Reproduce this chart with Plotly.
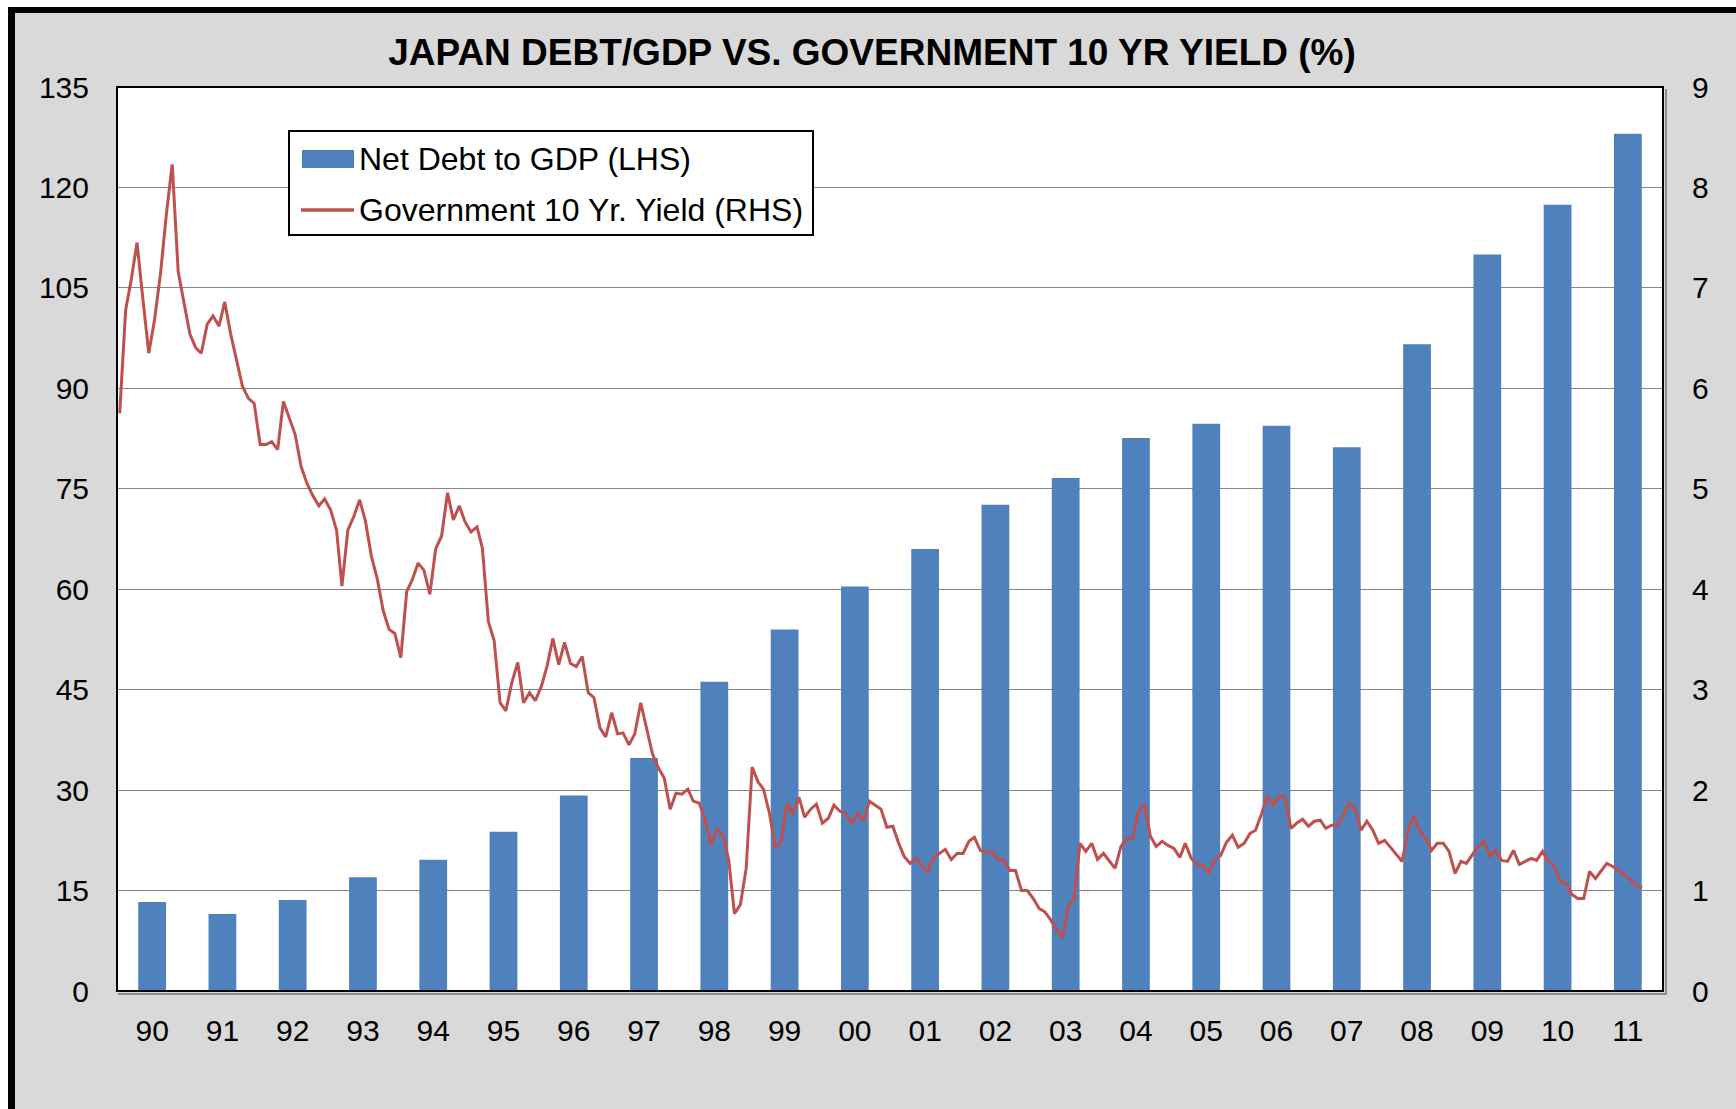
import pandas as pd
import plotly.graph_objects as go

# ---------------------------------------------------------------- data
years = ["90", "91", "92", "93", "94", "95", "96", "97", "98", "99", "00",
         "01", "02", "03", "04", "05", "06", "07", "08", "09", "10", "11"]

# Net debt to GDP (%), annual
net_debt_gdp = [13.3, 11.5, 13.6, 17.0, 19.6, 23.8, 29.2, 34.8, 46.2, 54.0, 60.4,
                66.0, 72.6, 76.6, 82.6, 84.7, 84.4, 81.2, 96.6, 110.0, 117.4, 128.0]

# Government 10-year yield (%), monthly from Jan 1990
yield_10y = [
    5.75, 6.78, 7.07, 7.45, 6.90, 6.35, 6.68, 7.14, 7.74, 8.23, 7.16, 6.84,   # 1990
    6.54, 6.40, 6.35, 6.64, 6.72, 6.62, 6.86, 6.54, 6.28, 6.02, 5.90, 5.85,   # 1991
    5.44, 5.44, 5.47, 5.39, 5.87, 5.70, 5.54, 5.22, 5.05, 4.93, 4.83, 4.90,   # 1992
    4.79, 4.59, 4.03, 4.59, 4.72, 4.89, 4.68, 4.33, 4.10, 3.79, 3.60, 3.56,   # 1993
    3.32, 3.98, 4.09, 4.26, 4.19, 3.95, 4.40, 4.53, 4.96, 4.69, 4.83, 4.67,   # 1994
    4.57, 4.62, 4.41, 3.68, 3.49, 2.87, 2.79, 3.07, 3.27, 2.87, 2.97, 2.89,   # 1995
    3.03, 3.24, 3.51, 3.25, 3.47, 3.26, 3.23, 3.33, 2.97, 2.92, 2.62, 2.53,   # 1996
    2.77, 2.56, 2.57, 2.45, 2.56, 2.87, 2.62, 2.36, 2.22, 2.12, 1.81, 1.97,   # 1997
    1.96, 2.01, 1.89, 1.87, 1.71, 1.45, 1.61, 1.56, 1.31, 0.77, 0.86, 1.22,   # 1998
    2.23, 2.08, 2.01, 1.77, 1.43, 1.49, 1.87, 1.76, 1.93, 1.73, 1.81, 1.86,   # 1999
    1.67, 1.72, 1.85, 1.79, 1.77, 1.67, 1.77, 1.69, 1.89, 1.85, 1.81, 1.63,   # 2000
    1.64, 1.47, 1.34, 1.27, 1.32, 1.25, 1.19, 1.33, 1.37, 1.41, 1.31, 1.37,   # 2001
    1.37, 1.49, 1.53, 1.40, 1.38, 1.39, 1.31, 1.31, 1.20, 1.20, 1.00, 1.00,   # 2002
    0.92, 0.82, 0.79, 0.71, 0.61, 0.53, 0.84, 0.92, 1.47, 1.39, 1.47, 1.31,   # 2003
    1.37, 1.29, 1.22, 1.44, 1.52, 1.52, 1.79, 1.86, 1.54, 1.44, 1.49, 1.45,   # 2004
    1.42, 1.33, 1.47, 1.32, 1.26, 1.25, 1.17, 1.31, 1.35, 1.48, 1.55, 1.43,   # 2005
    1.47, 1.57, 1.60, 1.76, 1.94, 1.85, 1.94, 1.94, 1.62, 1.67, 1.71, 1.64,   # 2006
    1.69, 1.70, 1.62, 1.65, 1.65, 1.75, 1.87, 1.81, 1.60, 1.69, 1.60, 1.47,   # 2007
    1.50, 1.43, 1.36, 1.29, 1.59, 1.75, 1.59, 1.53, 1.40, 1.47, 1.47, 1.39,   # 2008
    1.17, 1.29, 1.27, 1.36, 1.44, 1.49, 1.34, 1.40, 1.30, 1.29, 1.40, 1.26,   # 2009
    1.29, 1.32, 1.30, 1.39, 1.29, 1.25, 1.09, 1.07, 0.96, 0.92, 0.92, 1.19,   # 2010
    1.12, 1.20, 1.27, 1.24, 1.20, 1.16, 1.11, 1.05, 1.03,                     # 2011
]
months = pd.date_range("1990-01-15", periods=len(yield_10y),
                       freq=pd.DateOffset(months=1))

title_text = "JAPAN DEBT/GDP VS. GOVERNMENT 10 YR YIELD (%)"
bar_name = "Net Debt to GDP (LHS)"
line_name = "Government 10 Yr. Yield (RHS)"

# ---------------------------------------------------------------- layout geometry
W, H = 1736, 1109
L, R, T, B = 117, 1663, 87, 991          # plot-area edges in pixels
FONT = "Liberation Sans, Arial, sans-serif"
BLUE, RED = "#4F81BD", "#C0504D"


def px(x):
    return (x - L) / (R - L)


def py(y):
    return (B - y) / (B - T)


def rect(x0, y0, x1, y1, **kw):
    return dict(type="rect", xref="paper", yref="paper",
                x0=px(x0), x1=px(x1), y0=py(y1), y1=py(y0), **kw)


fig = go.Figure()

fig.add_trace(go.Bar(
    x=years, y=net_debt_gdp, name=bar_name,
    marker=dict(color=BLUE, line=dict(width=0)),
    xaxis="x", yaxis="y", showlegend=False,
))

fig.add_trace(go.Scatter(
    x=months, y=yield_10y, name=line_name, mode="lines",
    line=dict(color=RED, width=3),
    xaxis="x2", yaxis="y2", showlegend=False,
))

shapes = [
    # outer frame: white margin, black top and left edges
    rect(0, 0, W, 7, fillcolor="white", line_width=0, layer="above"),
    rect(0, 0, 8, H, fillcolor="white", line_width=0, layer="above"),
    rect(8, 7, W, 13, fillcolor="black", line_width=0, layer="above"),
    rect(8, 7, 15, H, fillcolor="black", line_width=0, layer="above"),
    # plot-area border with soft shadow on bottom and right
    rect(L + 1, B + 2, R + 3, B + 4, fillcolor="#8c8c8c", line_width=0, layer="above"),
    rect(R + 2, T + 2, R + 4, B + 4, fillcolor="#8c8c8c", line_width=0, layer="above"),
    dict(type="rect", xref="paper", yref="paper", x0=0, x1=1, y0=0, y1=1,
         line=dict(color="black", width=2), layer="above"),
    # legend box and keys
    rect(289, 131, 813, 235, fillcolor="white",
         line=dict(color="black", width=2), layer="above"),
    rect(302, 150, 354, 168, fillcolor=BLUE, line_width=0, layer="above"),
    dict(type="line", xref="paper", yref="paper",
         x0=px(301), x1=px(354), y0=py(210), y1=py(210),
         line=dict(color=RED, width=3.5), layer="above"),
]

annotations = [
    dict(xref="paper", yref="paper", x=px(357), y=py(159), text=bar_name,
         showarrow=False, xanchor="left", yanchor="middle",
         font=dict(family=FONT, size=32, color="black")),
    dict(xref="paper", yref="paper", x=px(357), y=py(210), text=line_name,
         showarrow=False, xanchor="left", yanchor="middle",
         font=dict(family=FONT, size=32, color="black")),
]

fig.update_layout(
    width=W, height=H, autosize=False,
    margin=dict(l=L, r=W - R, t=T, b=H - B, pad=0),
    paper_bgcolor="#d9d9d9", plot_bgcolor="white",
    font=dict(family=FONT, color="black"),
    title=dict(text=title_text, x=872 / W, xref="container", xanchor="center",
               y=1 - 52 / H, yref="container", yanchor="middle",
               font=dict(family=FONT, size=37, color="black", weight="bold")),
    bargap=0.605,
    showlegend=False,
    shapes=shapes,
    annotations=annotations,
    xaxis=dict(type="category", range=[-0.5, len(years) - 0.5],
               showgrid=False, zeroline=False, showline=False, ticks="",
               tickfont=dict(size=30), ticklabelstandoff=19),
    xaxis2=dict(type="date", overlaying="x", range=["1990-01-01", "2012-01-01"],
                visible=False),
    yaxis=dict(range=[0, 135], tick0=0, dtick=15, showgrid=True,
               gridcolor="#868686", gridwidth=1.3, zeroline=False, showline=False,
               ticks="", tickfont=dict(size=30), ticklabelstandoff=27),
    yaxis2=dict(range=[0, 9], tick0=0, dtick=1, overlaying="y", side="right",
                showgrid=False, zeroline=False, showline=False, ticks="",
                tickfont=dict(size=30), ticklabelstandoff=28),
)

fig.write_html("out.html")
